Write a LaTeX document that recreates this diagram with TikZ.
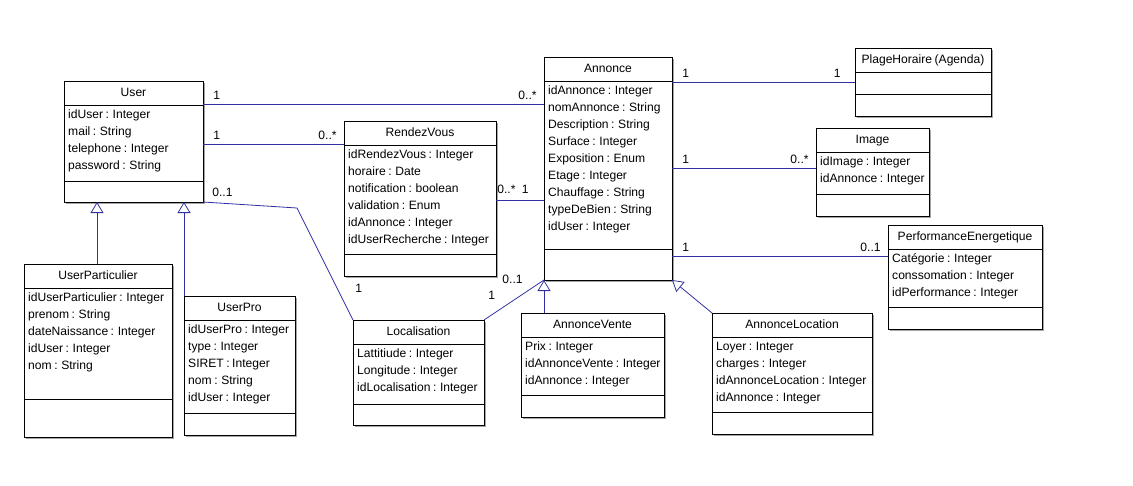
\documentclass[tikz,border=0pt]{standalone}
\usepackage{fontspec}
\setmainfont{Liberation Sans}[WordSpace=0.75]
\usetikzlibrary{arrows.meta,fit,shadows}

\definecolor{linkblue}{RGB}{48,48,160}

\tikzset{
  class box/.style={draw, line width=0.9pt, fill=white, inner sep=0pt, outer sep=0pt,
    drop shadow={shadow xshift=2pt, shadow yshift=-2pt, fill=black!35, opacity=1}},
  class line/.style={line width=0.9pt},
  class title/.style={anchor=base, inner sep=0pt, font=\fontsize{12.1}{17}\selectfont},
  class attr/.style={anchor=base west, inner sep=0pt, font=\fontsize{12.1}{17}\selectfont},
  assoc/.style={draw=linkblue, line width=0.8pt},
  gen/.style={draw=linkblue, line width=0.8pt, -{Triangle[length=11pt, width=13pt, fill=white]}},
  mult/.style={inner sep=0pt, font=\fontsize{12.1}{17}\selectfont},
  mult start/.style={mult, anchor=base west, xshift=10pt, yshift=5pt},
  mult end/.style={mult, anchor=base east, xshift=-7pt, yshift=5pt}
}

% \umlclass{name}{x1}{y1}{x2}{y2}{y of attribute end}{title}{attributes}
\newcommand{\umlclass}[8]{%
  \node[class box, fit={(#2,#3) (#4,#5)}] (#1) {};
  \draw[class line] (#2,#3+24) -- (#4,#3+24);
  \draw[class line] (#2,#6) -- (#4,#6);
  \node[class title] (#1-title) at ({(#2+#4)/2},#3+15) {#7};
  \if\relax\detokenize{#8}\relax\else
    \foreach \field [count=\i from 0] in {#8}
      \node[class attr] (#1-a\i) at (#2+4,#3+37.5+17*\i) {\field};
  \fi
}

\begin{document}
\begin{tikzpicture}[x=1pt, y=-1pt]
  \useasboundingbox (0,0) rectangle (1133,485);

  % classes
  \umlclass{User}{64}{81}{203}{202}{181}{User}
    {idUser : Integer, mail : String, telephone : Integer, password : String}
  \umlclass{RendezVous}{344}{121}{496}{276}{254}{RendezVous}
    {idRendezVous : Integer, horaire : Date, notification : boolean, validation : Enum,
     idAnnonce : Integer, idUserRecherche : Integer}
  \umlclass{Annonce}{544}{57}{672}{280}{249}{Annonce}
    {idAnnonce : Integer, nomAnnonce : String, Description : String, Surface : Integer,
     Exposition : Enum, Etage : Integer, Chauffage : String, typeDeBien : String, idUser : Integer}
  \umlclass{PlageHoraire}{855}{48}{991}{116}{94}{PlageHoraire (Agenda)}{}
  \umlclass{Image}{816}{128}{929}{216}{194}{Image}
    {idImage : Integer, idAnnonce : Integer}
  \umlclass{Performance}{888}{225}{1042}{329}{307}{PerformanceEnergetique}
    {Catégorie : Integer, conssomation : Integer, idPerformance : Integer}
  \umlclass{UserParticulier}{24}{264}{172}{437}{399}{UserParticulier}
    {idUserParticulier : Integer, prenom : String, dateNaissance : Integer, idUser : Integer, nom : String}
  \umlclass{UserPro}{184}{296}{295}{435}{413}{UserPro}
    {idUserPro : Integer, type : Integer, SIRET : Integer, nom : String, idUser : Integer}
  \umlclass{Localisation}{353}{320}{484}{425}{404}{Localisation}
    {Lattitiude : Integer, Longitude : Integer, idLocalisation : Integer}
  \umlclass{AnnonceVente}{521}{313}{664}{417}{395}{AnnonceVente}
    {Prix : Integer, idAnnonceVente : Integer, idAnnonce : Integer}
  \umlclass{AnnonceLocation}{712}{313}{872}{434}{412}{AnnonceLocation}
    {Loyer : Integer, charges : Integer, idAnnonceLocation : Integer, idAnnonce : Integer}

  % associations
  \draw[assoc] (User.east |- 0,104) node[mult start] (m1) {1}
    -- (Annonce.west |- 0,104) node[mult end] (m2) {0..*};
  \draw[assoc] (User.east |- 0,144) node[mult start] (m3) {1}
    -- (RendezVous.west |- 0,144) node[mult end] (m4) {0..*};
  \draw[assoc] (RendezVous.east |- 0,200) node[mult start, xshift=-9pt, yshift=2pt] (m5) {0..*}
    -- (Annonce.west |- 0,200) node[mult end, xshift=-8pt, yshift=2pt] (m6) {1};
  \draw[assoc] (User.south east) node[mult start, xshift=-1pt, yshift=0.5pt] (m7) {0..1}
    -- (297,208) -- (Localisation.north west) node[mult, anchor=base west, xshift=2pt, yshift=27.5pt] (m8) {1};
  \draw[assoc] (Localisation.north east) node[mult, anchor=base west, xshift=4pt, yshift=20.5pt] (m9) {1}
    -- (Annonce.south west) node[mult, anchor=base east, xshift=-21pt, yshift=-3.5pt] (m10) {0..1};
  \draw[assoc] (Annonce.east |- 0,82) node[mult start] (m11) {1}
    -- (PlageHoraire.west |- 0,82) node[mult end, xshift=-7pt] (m12) {1};
  \draw[assoc] (Annonce.east |- 0,168) node[mult start] (m13) {1}
    -- (Image.west |- 0,168) node[mult end] (m14) {0..*};
  \draw[assoc] (Annonce.east |- 0,256) node[mult start] (m15) {1}
    -- (Performance.west |- 0,256) node[mult end] (m16) {0..1};

  % generalisations
  \draw[gen] (UserParticulier.north -| 97,0) -- (User.south -| 97,0);
  \draw[gen] (UserPro.north west) -- (UserPro.north west |- User.south);
  \draw[gen] (AnnonceVente.north -| Annonce.south west) -- (Annonce.south west);
  \draw[gen] (AnnonceLocation.north west) -- (Annonce.south east);
\end{tikzpicture}
\end{document}
